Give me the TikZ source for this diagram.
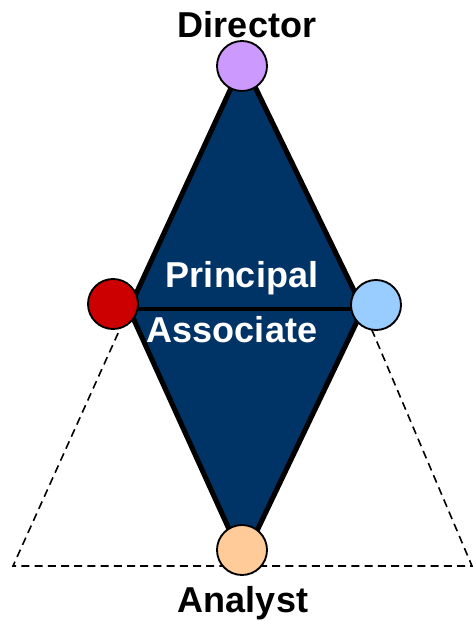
\documentclass[tikz,border=0pt]{standalone}
\usepackage{fontspec}
\setmainfont{Liberation Sans}
\usepackage{xcolor}
\usepackage{tikz}
\usetikzlibrary{backgrounds}
\definecolor{rhombfill}{HTML}{003366}
\definecolor{dirfill}{HTML}{CC99FF}
\definecolor{redfill}{HTML}{CC0000}
\definecolor{bluefill}{HTML}{99CCFF}
\definecolor{anafill}{HTML}{FFCC99}
\tikzset{
  rhomb/.style={draw=black, fill=rhombfill, line width=3.8pt,
                line join=miter},
  midline/.style={draw=black, line width=3.6pt},
  ghost/.style={draw=black, line width=1.2pt,
                dash pattern=on 6pt off 3.9pt},
  dot/.style={circle, draw=black, line width=1.4pt,
              minimum size=37.5pt, inner sep=0pt},
  rolelabel/.style={font=\bfseries\fontsize{27}{32}\selectfont,
                    anchor=base, inner sep=0pt},
  innerlabel/.style={rolelabel, text=white}
}

\begin{document}
\begin{tikzpicture}[x=0.75pt,y=-0.75pt]
  \path[use as bounding box] (0,0) rectangle (472,621);

  % Corners of the rhombus and of the dashed base triangle.
  \coordinate (top) at (243,62);
  \coordinate (left) at (129,309);
  \coordinate (right) at (363,309);
  \coordinate (bottom) at (243,560);
  \coordinate (baseL) at (13,566);
  \coordinate (baseR) at (472,566);

  % Filled rhombus split along its waist.
  \path[rhomb] (top)--(right)--(bottom)--(left)--cycle;
  \draw[midline] (left)--(right);

  % The four role dots.
  \node[dot, fill=dirfill] (dirdot) at (242,66) {};
  \node[dot, fill=redfill] (reddot) at (113,304) {};
  \node[dot, fill=bluefill] (bluedot) at (376,305) {};
  \node[dot, fill=anafill] (anadot) at (242,550) {};

  % Dashed triangle below, tucked behind rhombus and dots.
  \begin{scope}[on background layer]
    \draw[ghost] (left)--(baseL)--(baseR)--(right);
  \end{scope}

  % Labels.
  \node[rolelabel] (director) at (247,37) {Director};
  \node[rolelabel] (analyst) at (243,612) {Analyst};
  \node[innerlabel] (principal) at (242,287) {Principal};
  \node[innerlabel] (associate) at (232,342) {Associate};
\end{tikzpicture}
\end{document}
